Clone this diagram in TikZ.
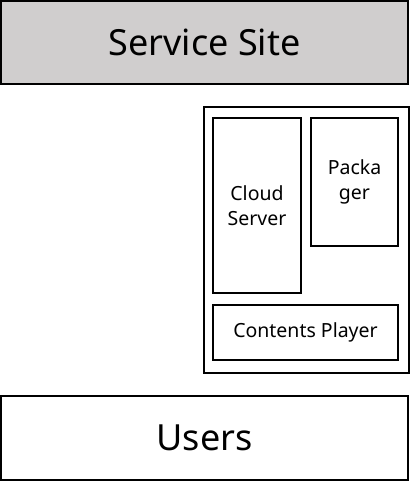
\documentclass[tikz,border=0pt]{standalone}
\usepackage{fontspec}
\setmainfont{Noto Sans}
\usepackage{tikz}
\usetikzlibrary{positioning}
\definecolor{sitegray}{HTML}{D0CECE}
\tikzset{
  box/.style={rectangle, draw=black, line width=2pt, inner sep=0pt, outer sep=0pt,
              align=center, text=black},
  bigbox/.style={box, minimum width=407pt, minimum height=83pt, font=\fontsize{36}{42}\selectfont},
  smallbox/.style={box, font=\fontsize{19.5}{25}\selectfont}
}
\begin{document}
\begin{tikzpicture}[x=1pt,y=-1pt]
  \useasboundingbox (0,0) rectangle (410,484);

  % Top and bottom bars.
  \node[bigbox, fill=sitegray] (site) at (204.5,42.5) {Service Site};
  \node[bigbox, minimum height=84pt] (users) at (204.5,438) {Users};

  % Group of components.
  \node[box, minimum width=205pt, minimum height=266pt] (group) at (306.5,240) {};
  \node[smallbox, minimum width=88pt, minimum height=175pt] (cloud) at (257,205.5) {Cloud\\Server};
  \node[smallbox, minimum width=87pt, minimum height=128pt] (packager) at (354.5,182) {Packa\\ger};
  \node[smallbox, minimum width=185pt, minimum height=55pt] (player) at (305.5,332.5) {Contents Player};
\end{tikzpicture}
\end{document}
